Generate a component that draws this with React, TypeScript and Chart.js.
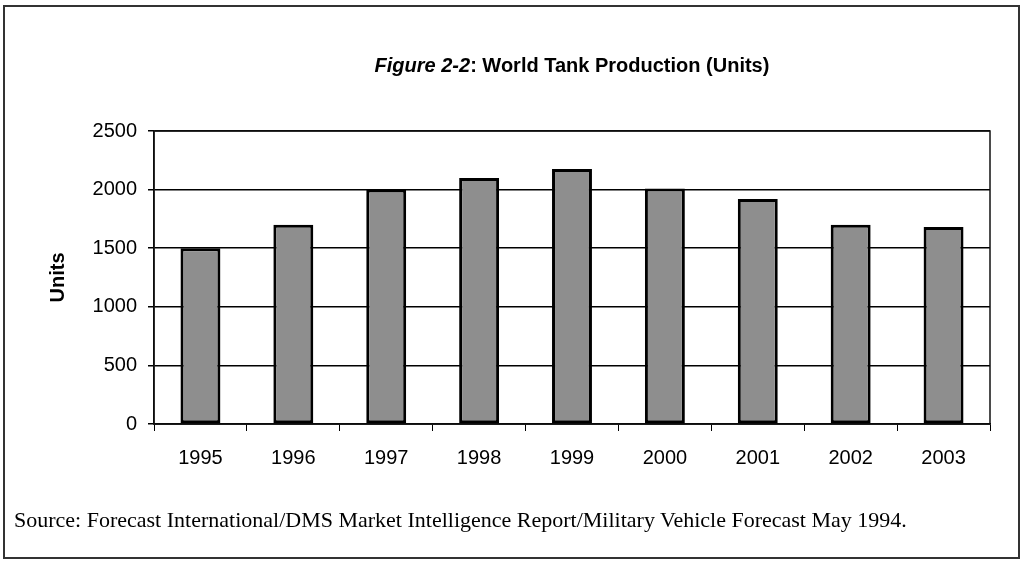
import React, { useEffect, useRef } from "react";
import { Chart, registerables } from "chart.js";

Chart.register(...registerables);

const years = ["1995", "1996", "1997", "1998", "1999", "2000", "2001", "2002", "2003"];
const units = [1500, 1700, 2000, 2100, 2175, 2010, 1920, 1700, 1680];
const yTicks = [0, 500, 1000, 1500, 2000, 2500];

const frameBorder = {
  id: "plotFrame",
  afterDatasetsDraw(chart: any) {
    const { ctx, chartArea } = chart;
    ctx.save();
    ctx.strokeStyle = "#111";
    ctx.lineWidth = 1.5;
    ctx.strokeRect(chartArea.left, chartArea.top, chartArea.right - chartArea.left, chartArea.bottom - chartArea.top);
    ctx.restore();
  },
};

export default function App() {
  const ref = useRef<HTMLCanvasElement | null>(null);
  useEffect(() => {
    document.body.style.margin = "0";
    const chart = new Chart(ref.current as HTMLCanvasElement, {
      type: "bar",
      data: {
        labels: years,
        datasets: [
          {
            label: "Units",
            data: units,
            backgroundColor: "#8e8e8e",
            borderColor: "#000",
            borderWidth: 3,
            borderSkipped: false,
            categoryPercentage: 1,
            barPercentage: 0.43,
          },
        ],
      },
      options: {
        animation: false,
        responsive: false,
        devicePixelRatio: 1,
        layout: { padding: { top: 131, left: 42, right: 31, bottom: 77 } },
        plugins: { legend: { display: false }, tooltip: { enabled: false }, title: { display: false } },
        scales: {
          x: {
            afterFit: (s: any) => { s.height = 60; },
            grid: { display: true, offset: true, drawOnChartArea: false, drawTicks: true, tickLength: 7, color: "#000", lineWidth: 1 },
            border: { display: true, color: "#000", width: 1.5 },
            ticks: { color: "#000", padding: 15, font: { family: "Liberation Sans", size: 20 } },
          },
          y: {
            min: 0,
            max: 2500,
            afterFit: (s: any) => { s.width = 112; },
            afterBuildTicks: (s: any) => { s.ticks = yTicks.map((v) => ({ value: v })); },
            grid: { color: "#000", lineWidth: 1.5, drawTicks: true, tickLength: 6 },
            border: { display: true, color: "#000", width: 1.5 },
            ticks: {
              color: "#000",
              padding: 11,
              font: { family: "Liberation Sans", size: 20 },
              callback: (v: any) => String(v),
            },
            title: { display: true, text: "Units", color: "#000", font: { family: "Liberation Sans", size: 20, weight: "bold" } },
          },
        },
      },
      plugins: [frameBorder],
    });
    return () => chart.destroy();
  }, []);

  return (
    <div style={{ position: "absolute", left: 0, top: 0, width: 1021, height: 561, background: "#fff", overflow: "hidden" }}>
      <canvas ref={ref} width={1021} height={561} style={{ position: "absolute", left: 0, top: 0 }} />
      <div
        style={{
          position: "absolute",
          left: 3,
          top: 5,
          width: 1013,
          height: 550,
          border: "2px solid #333",
          pointerEvents: "none",
        }}
      />
      <div
        style={{
          position: "absolute",
          left: 154,
          width: 836,
          top: 52,
          textAlign: "center",
          fontFamily: "Liberation Sans",
          fontWeight: "bold",
          fontSize: 20,
          lineHeight: "26px",
          color: "#000",
        }}
      >
        <i>Figure 2-2</i>: World Tank Production (Units)
      </div>
      <div
        style={{
          position: "absolute",
          left: 14,
          top: 506,
          fontFamily: "Liberation Serif",
          fontSize: 22,
          lineHeight: "28px",
          color: "#000",
          whiteSpace: "nowrap",
        }}
      >
        Source: Forecast International/DMS Market Intelligence Report/Military Vehicle Forecast May 1994.
      </div>
    </div>
  );
}
